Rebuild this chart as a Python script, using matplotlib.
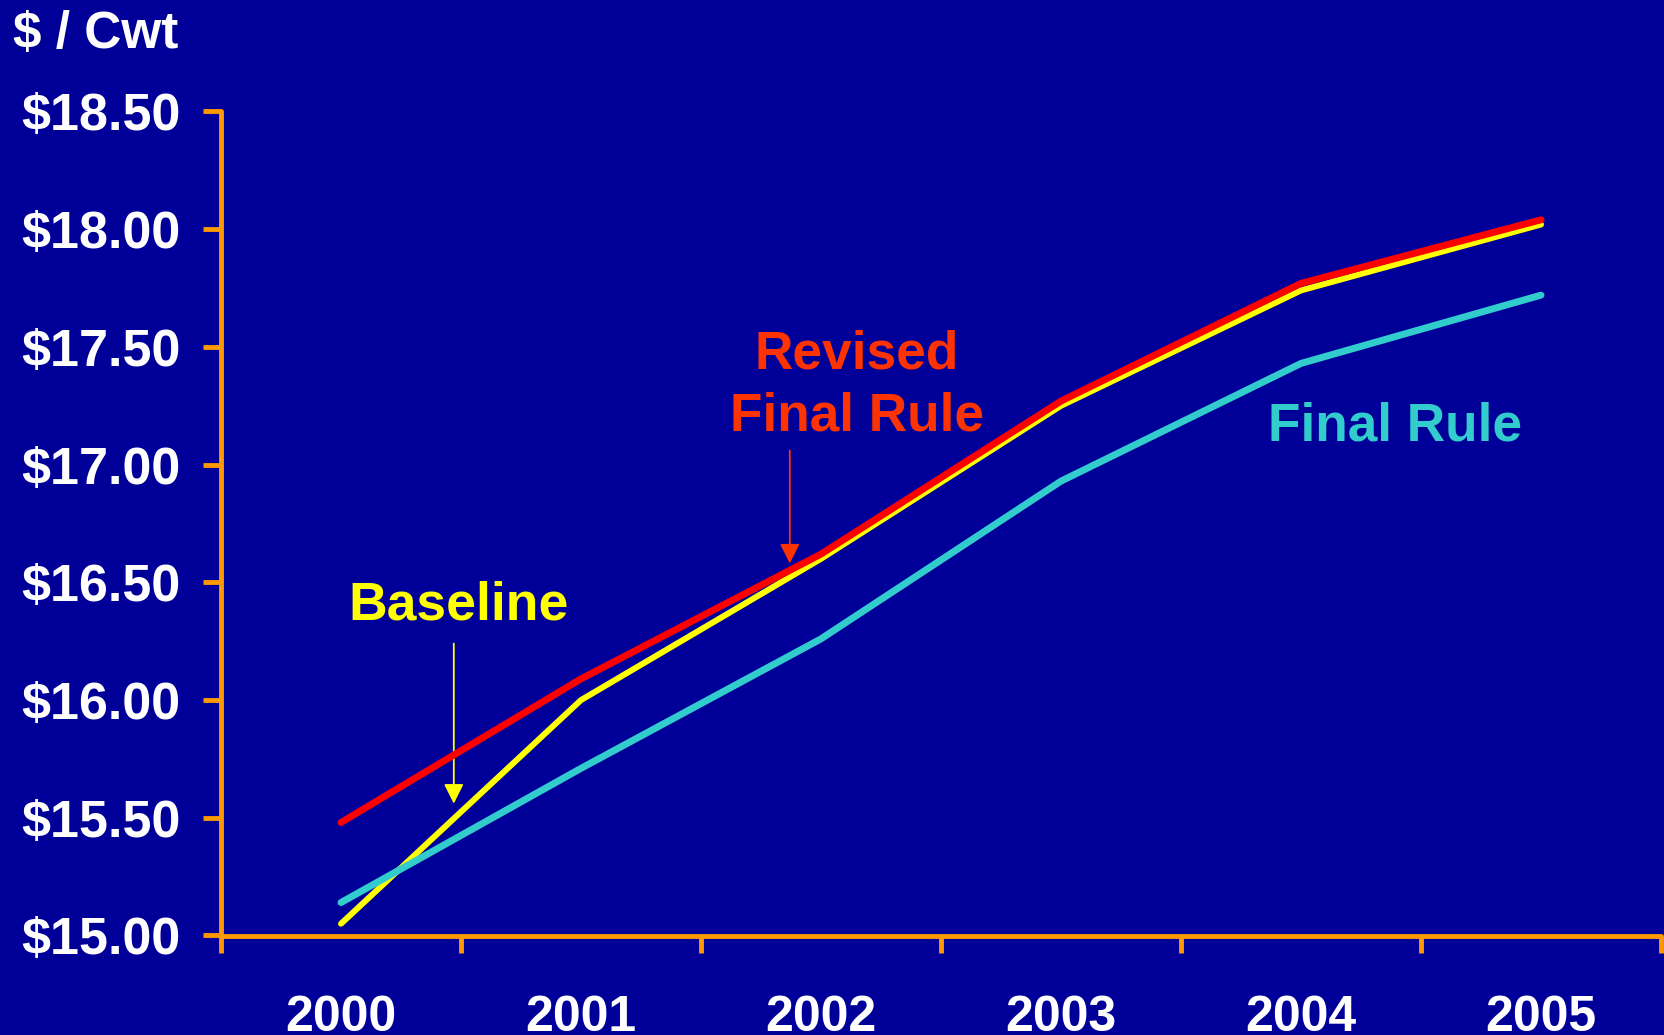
import numpy as np
import matplotlib
matplotlib.use('Agg')
import matplotlib.pyplot as plt

years = ['2000', '2001', '2002', '2003', '2004', '2005']
revised = [15.48, 16.09, 16.62, 17.27, 17.77, 18.04]
baseline = [15.05, 16.00, 16.60, 17.25, 17.74, 18.02]
final_rule = [15.14, 15.71, 16.26, 16.93, 17.43, 17.72]
yticks = [15.0, 15.5, 16.0, 16.5, 17.0, 17.5, 18.0, 18.5]

BG = '#000099'
AXC = '#FF9900'

plt.rcParams['font.family'] = ['Liberation Sans', 'DejaVu Sans']
plt.rcParams['font.weight'] = 'bold'

fig = plt.figure(figsize=(16.65, 10.35), dpi=100, facecolor=BG)
ax = fig.add_axes([221 / 1665, 1 - 935.5 / 1035, 1440 / 1665, 824 / 1035])
ax.set_facecolor(BG)

x = np.arange(len(years))
ax.plot(x, baseline, color='#FFFF00', lw=4.3, solid_capstyle='round', solid_joinstyle='round', zorder=3)
ax.plot(x, revised, color='#FF0000', lw=5.0, solid_capstyle='round', solid_joinstyle='round', zorder=4)
ax.plot(x, final_rule, color='#33CCCC', lw=5.0, solid_capstyle='round', solid_joinstyle='round', zorder=5)

ax.set_xlim(-0.5, len(years) - 0.5)
ax.set_ylim(15.0, 18.5)

for s in ['top', 'right']:
    ax.spines[s].set_visible(False)
for s in ['left', 'bottom']:
    ax.spines[s].set_color(AXC)
    ax.spines[s].set_linewidth(3.5)
    ax.spines[s].set_capstyle('round')

ax.set_yticks(yticks)
ax.set_yticklabels(['${:.2f}'.format(v) for v in yticks])
ax.tick_params(axis='y', colors=AXC, length=13, width=3.5, pad=16, labelsize=37.5,
               labelcolor='white')

ax.set_xticks(np.arange(-0.5, len(years)), labels=[])
ax.set_xticks(x, labels=years, minor=True)
ax.tick_params(axis='x', which='major', colors=AXC, length=12, width=3.5)
ax.tick_params(axis='x', which='minor', length=0, pad=43, labelsize=36, labelcolor='white')
for lab in ax.get_xticklabels(minor=True) + ax.get_yticklabels():
    lab.set_fontweight('bold')

fig.text(13 / 1665, 1 - 34 / 1035, '$ / Cwt', color='white', fontsize=37,
         fontweight='bold', ha='left', va='center')

# annotations
ax.text(0.49, 16.40, 'Baseline', color='#FFFF00', fontsize=38.5, fontweight='bold',
        ha='center', va='center')
ax.annotate('', xy=(0.47, 15.56), xytext=(0.47, 16.24),
            arrowprops=dict(arrowstyle='-|>', color='#FFFF00', lw=1.3,
                            mutation_scale=30, shrinkA=0, shrinkB=0))
ax.text(2.15, 17.335, 'Revised\nFinal Rule', color='#FF3300', fontsize=38.3, fontweight='bold',
        ha='center', va='center', linespacing=1.3)
ax.annotate('', xy=(1.87, 16.58), xytext=(1.87, 17.06),
            arrowprops=dict(arrowstyle='-|>', color='#FF3300', lw=1.3,
                            mutation_scale=30, shrinkA=0, shrinkB=0))
ax.text(4.39, 17.16, 'Final Rule', color='#33CCCC', fontsize=38.3, fontweight='bold',
        ha='center', va='center')

fig.savefig('out.png', dpi=100, facecolor=BG)
